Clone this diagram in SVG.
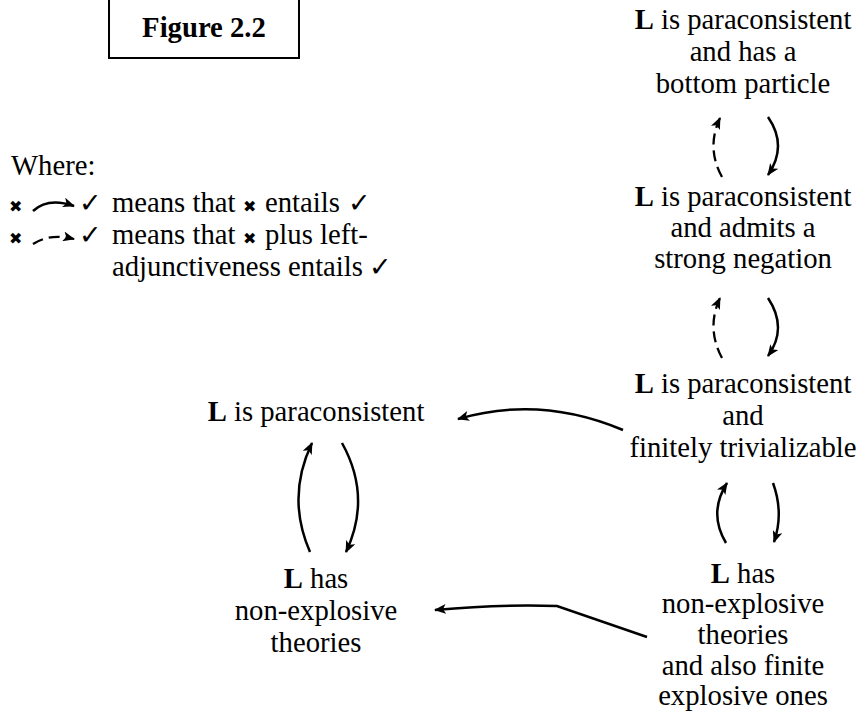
<svg xmlns="http://www.w3.org/2000/svg" width="861" height="720" viewBox="0 0 861 720">
<defs>
<marker id="ah" viewBox="0 0 12 10" refX="11" refY="5" markerWidth="12" markerHeight="10" markerUnits="userSpaceOnUse" orient="auto">
<path d="M0,0 L12,5 L0,10 L3,5 z" fill="#000"/>
</marker>
<style>
text{font-family:"Liberation Serif","Times New Roman",serif;font-size:28.7px;fill:#000}
.n{text-anchor:middle}
.b{font-weight:bold}
.x{font-family:"DejaVu Sans",sans-serif;font-size:16px}
.v{font-family:"DejaVu Sans",sans-serif;font-size:27px}
.c{fill:none;stroke:#000;stroke-width:2.5}
.d{fill:none;stroke:#000;stroke-width:2.3;stroke-dasharray:11 6}
</style>
</defs>
<g id="title">
<rect x="109" y="-2" width="190" height="60" fill="none" stroke="#000" stroke-width="2"/>
<text x="204" y="37" class="n b">Figure 2.2</text>
</g>
<g id="legend">
<text x="11" y="175">Where:</text>
<text x="9" y="212" class="x">✖</text>
<text x="79" y="212" class="v">✓</text>
<text x="112" y="212">means that</text>
<text x="243" y="212" class="x">✖</text>
<text x="265" y="212">entails</text>
<text x="348" y="212" class="v">✓</text>
<text x="9" y="244" class="x">✖</text>
<text x="79" y="244" class="v">✓</text>
<text x="112" y="244">means that</text>
<text x="243" y="244" class="x">✖</text>
<text x="265" y="244">plus left-</text>
<text x="112" y="276">adjunctiveness entails</text>
<text x="369" y="276" class="v">✓</text>
<path class="c" d="M33,211 Q48,197 74,206" stroke-width="2" marker-end="url(#ah)"/>
<path class="d" d="M33,244 Q50,233 74,239" stroke-width="2" stroke-dasharray="7 8" marker-end="url(#ah)"/>
</g>
<g id="n1">
<text x="743" y="29" class="n"><tspan class="b">L</tspan> is paraconsistent</text>
<text x="743" y="61" class="n">and has a</text>
<text x="743" y="93" class="n">bottom particle</text>
</g>
<g id="n2">
<text x="743" y="206" class="n"><tspan class="b">L</tspan> is paraconsistent</text>
<text x="743" y="237" class="n">and admits a</text>
<text x="743" y="268" class="n">strong negation</text>
</g>
<g id="n3">
<text x="743" y="393" class="n"><tspan class="b">L</tspan> is paraconsistent</text>
<text x="743" y="425" class="n">and</text>
<text x="743" y="457" class="n">finitely trivializable</text>
</g>
<g id="n4">
<text x="743" y="583" class="n"><tspan class="b">L</tspan> has</text>
<text x="743" y="613" class="n">non-explosive</text>
<text x="743" y="644" class="n">theories</text>
<text x="743" y="675" class="n">and also finite</text>
<text x="743" y="705" class="n">explosive ones</text>
</g>
<g id="n5">
<text x="316" y="421" class="n"><tspan class="b">L</tspan> is paraconsistent</text>
</g>
<g id="n6">
<text x="316" y="588" class="n"><tspan class="b">L</tspan> has</text>
<text x="316" y="620" class="n">non-explosive</text>
<text x="316" y="652" class="n">theories</text>
</g>
<g id="connectors">
<path class="d" d="M722,177 Q706,148 720,118" marker-end="url(#ah)"/>
<path class="c" d="M768,117 Q788,146 768,175" marker-end="url(#ah)"/>
<path class="d" d="M722,358 Q706,328 720,298" marker-end="url(#ah)"/>
<path class="c" d="M768,298 Q788,328 768,356" marker-end="url(#ah)"/>
<path class="c" d="M726,543 Q708,513 727,483" marker-end="url(#ah)"/>
<path class="c" d="M773,483 Q784,513 774,542" marker-end="url(#ah)"/>
<path class="c" d="M310,552 Q286,497 312,443" marker-end="url(#ah)"/>
<path class="c" d="M342,443 Q372,497 346,552" marker-end="url(#ah)"/>
<path class="c" d="M623,430 Q540,395 458,419" marker-end="url(#ah)"/>
<path class="c" d="M647,637 L557,606 Q500,604 435,610" marker-end="url(#ah)"/>
</g>
</svg>
